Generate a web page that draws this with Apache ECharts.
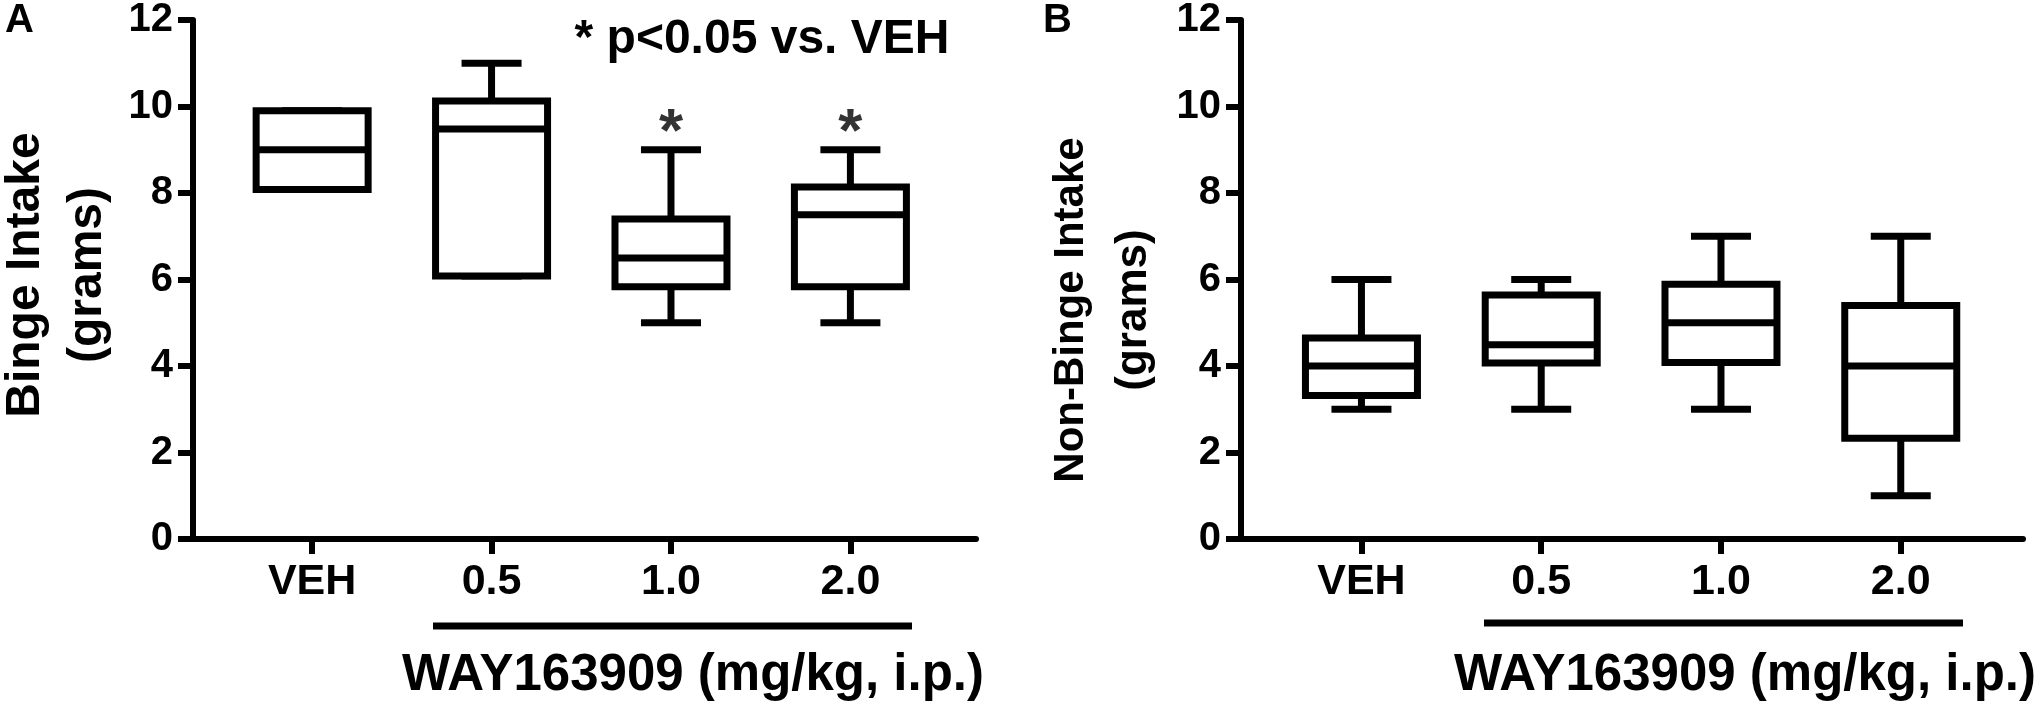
<!DOCTYPE html>
<html>
<head>
<meta charset="utf-8">
<script src="https://cdn.jsdelivr.net/npm/echarts@6/dist/echarts.min.js"></script>
<style>
  html, body { margin: 0; padding: 0; background: #fff; }
  #chart { width: 2035px; height: 710px; }
</style>
</head>
<body>
<div id="chart"></div>
<script>
// groups on the x axis
var categories = ['VEH', '0.5', '1.0', '2.0'];
var groupX = [1, 2, 3, 4];

// panel A: binge intake (grams), box plot summary per group
var bingeMin = [8.08, 6.08, 5, 5];
var bingeQ1 = [8.08, 6.08, 5.83, 5.83];
var bingeMedian = [9, 9.48, 6.5, 7.5];
var bingeQ3 = [9.9, 10.13, 7.4, 8.14];
var bingeMax = [9.9, 11, 9, 9];
// height of the significance star above each group (null = none)
var bingeStarY = [null, null, 9.7, 9.7];

// panel B: non-binge intake (grams)
var nonBingeMin = [3, 3, 3, 1];
var nonBingeQ1 = [3.32, 4.07, 4.08, 2.33];
var nonBingeMedian = [4, 4.49, 5, 4];
var nonBingeQ3 = [4.65, 5.64, 5.89, 5.4];
var nonBingeMax = [6, 6, 7, 7];

var FONT = '"Liberation Sans", Arial, sans-serif';

/**
 * 拼出箱线图数据 [x, min, q1, median, q3, max]
 */
function boxData(mins, q1s, meds, q3s, maxs) {
	return groupX.map(function (x, i) {
		return [x, mins[i], q1s[i], meds[i], q3s[i], maxs[i]];
	});
}

function starData(ys) {
	var out = [];
	ys.forEach(function (y, i) {
		if (y != null) out.push([groupX[i], y]);
	});
	return out;
}

/**
 * 画一个箱子：矩形、中位线、须和端线
 */
function renderBox(params, api) {
	var x = api.value(0);
	var lo = api.coord([x, api.value(1)]);
	var q1 = api.coord([x, api.value(2)]);
	var med = api.coord([x, api.value(3)]);
	var q3 = api.coord([x, api.value(4)]);
	var hi = api.coord([x, api.value(5)]);
	var cx = q1[0];
	var bw = 112, cw = 60;
	var st = { stroke: '#000', lineWidth: 7, fill: null };
	return {
		type: 'group',
		children: [
			{ type: 'line', shape: { x1: cx, y1: q3[1], x2: cx, y2: hi[1] }, style: st },
			{ type: 'line', shape: { x1: cx - cw / 2, y1: hi[1], x2: cx + cw / 2, y2: hi[1] }, style: st },
			{ type: 'line', shape: { x1: cx, y1: q1[1], x2: cx, y2: lo[1] }, style: st },
			{ type: 'line', shape: { x1: cx - cw / 2, y1: lo[1], x2: cx + cw / 2, y2: lo[1] }, style: st },
			{ type: 'rect', shape: { x: cx - bw / 2, y: q3[1], width: bw, height: q1[1] - q3[1] },
				style: { stroke: '#000', lineWidth: 7, fill: '#fff' } },
			{ type: 'line', shape: { x1: cx - bw / 2, y1: med[1], x2: cx + bw / 2, y2: med[1] }, style: st }
		]
	};
}

function xAxisFor(gridIndex, min, max) {
	return {
		type: 'value', gridIndex: gridIndex, min: min, max: max,
		splitLine: { show: false },
		axisLine: { onZero: false, lineStyle: { color: '#000', width: 6 } },
		axisTick: { customValues: groupX, length: 15, lineStyle: { color: '#000', width: 6 } },
		axisLabel: {
			customValues: groupX, margin: 22,
			color: '#000', fontSize: 43, fontWeight: 'bold', fontFamily: FONT,
			formatter: function (v) { return categories[Math.round(v) - 1]; }
		}
	};
}

function yAxisFor(gridIndex) {
	return {
		type: 'value', gridIndex: gridIndex, min: 0, max: 12, interval: 2,
		splitLine: { show: false },
		axisLine: { show: true, onZero: false, lineStyle: { color: '#000', width: 6 } },
		axisTick: { show: true, length: 15, lineStyle: { color: '#000', width: 6 } },
		axisLabel: {
			margin: 20, color: '#000', fontSize: 40, fontWeight: 'bold', fontFamily: FONT
		}
	};
}

function txt(text, x, y, size, opts) {
	opts = opts || {};
	return {
		type: 'text', x: x, y: y, rotation: opts.rotation || 0,
		style: {
			text: text, fill: '#000',
			font: 'bold ' + size + 'px ' + FONT,
			align: opts.align || 'center', verticalAlign: opts.valign || 'middle'
		}
	};
}

function hline(x1, x2, y) {
	return { type: 'line', shape: { x1: x1, y1: y, x2: x2, y2: y }, style: { stroke: '#000', lineWidth: 7 } };
}

var chart = echarts.init(document.getElementById('chart'));

var option = {
	animation: false,
	backgroundColor: '#fff',
	grid: [
		{ left: 193, top: 20, width: 783, height: 519 },
		{ left: 1241, top: 20, width: 782, height: 519 }
	],
	xAxis: [xAxisFor(0, 0.336, 4.70), xAxisFor(1, 0.33, 4.68)],
	yAxis: [yAxisFor(0), yAxisFor(1)],
	series: [
		{
			type: 'custom', name: 'Binge', xAxisIndex: 0, yAxisIndex: 0, clip: false,
			renderItem: renderBox,
			encode: { x: 0, y: [1, 2, 3, 4, 5] },
			data: boxData(bingeMin, bingeQ1, bingeMedian, bingeQ3, bingeMax)
		},
		{
			type: 'custom', name: 'Non-Binge', xAxisIndex: 1, yAxisIndex: 1, clip: false,
			renderItem: renderBox,
			encode: { x: 0, y: [1, 2, 3, 4, 5] },
			data: boxData(nonBingeMin, nonBingeQ1, nonBingeMedian, nonBingeQ3, nonBingeMax)
		},
		{
			type: 'scatter', xAxisIndex: 0, yAxisIndex: 0, symbolSize: 0,
			label: {
				show: true, position: 'inside', offset: [0, 14], formatter: '*',
				color: '#000', fontSize: 62, fontWeight: 'bold', fontFamily: FONT
			},
			data: starData(bingeStarY)
		}
	],
	graphic: [
		txt('A', 5, 21, 40, { align: 'left' }),
		txt('B', 1043, 21, 40, { align: 'left' }),
		txt('Binge Intake', 26, 275, 48, { rotation: Math.PI / 2 }),
		txt('(grams)', 88, 275, 48, { rotation: Math.PI / 2 }),
		txt('Non-Binge Intake', 1071, 310, 42, { rotation: Math.PI / 2 }),
		txt('(grams)', 1134, 310, 44, { rotation: Math.PI / 2 }),
		txt('* p<0.05 vs. VEH', 762, 40, 48),
		hline(433, 912, 626),
		hline(1484, 1963, 623),
		txt('WAY163909 (mg/kg, i.p.)', 693, 676, 51),
		txt('WAY163909 (mg/kg, i.p.)', 1745, 676, 51)
	]
};

chart.setOption(option);
</script>
</body>
</html>
